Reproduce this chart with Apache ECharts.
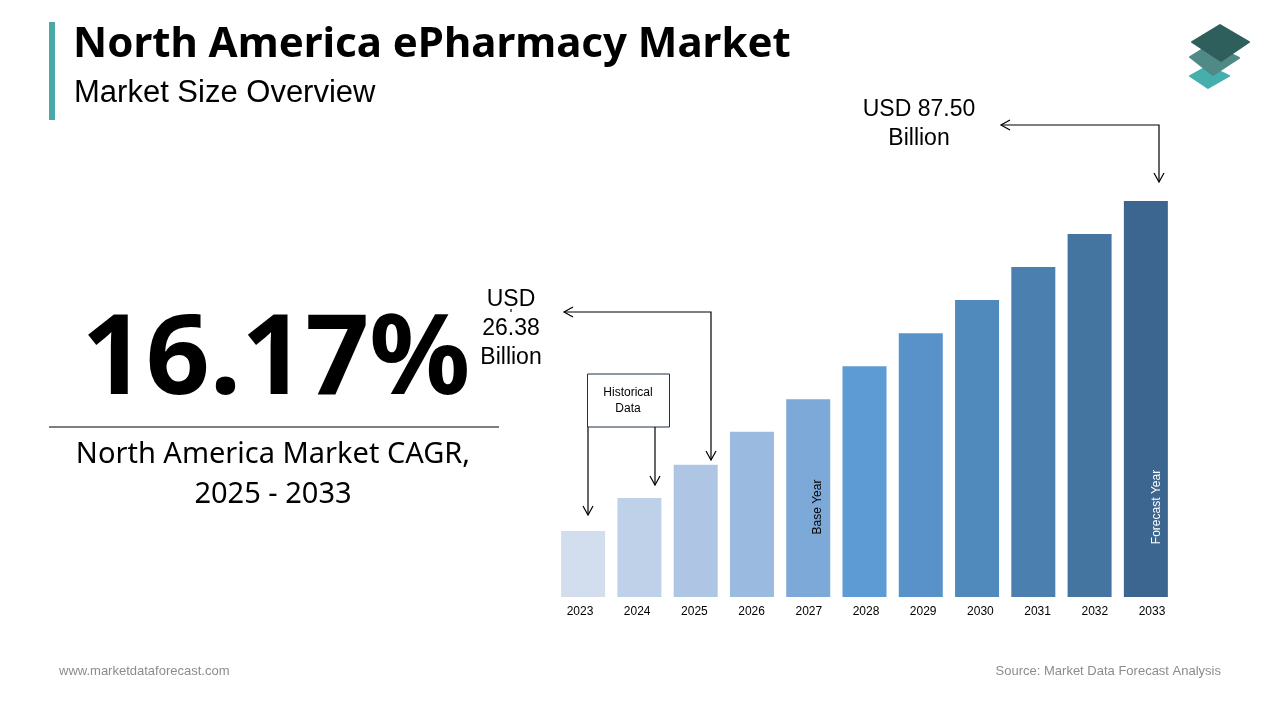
<!DOCTYPE html>
<html>
<head>
<meta charset="utf-8">
<title>North America ePharmacy Market</title>
<script src="https://cdn.jsdelivr.net/npm/echarts@6/dist/echarts.min.js"></script>
<style>
  html, body { margin: 0; padding: 0; background: #fff; }
  #chart { width: 1280px; height: 720px; }
</style>
</head>
<body>
<div id="chart"></div>
<script>
// bar heights, scaled so that 2033 = 87.50
const years = ['2023', '2024', '2025', '2026', '2027', '2028', '2029', '2030', '2031', '2032', '2033'];
const marketSize = [14.6, 21.9, 29.2, 36.5, 43.7, 51.0, 58.3, 65.6, 72.9, 80.2, 87.5];
const barColors = ['#D2DDEE', '#BFD0E9', '#AEC6E3', '#9ABADF', '#7DA9D9', '#5D9BD5', '#5892C8', '#5089BC', '#4A7FB0', '#4475A0', '#3C6690'];

const chart = echarts.init(document.getElementById('chart'));

const sans = '"Liberation Sans", Arial, sans-serif';
const noto = '"Noto Sans", sans-serif';

function text(x, y, str, size, opts) {
  return {
    type: 'text', x: x, y: y, rotation: (opts && opts.rotation) || 0,
    style: Object.assign({
      text: str, fontSize: size, fontFamily: sans, fill: '#000',
      textAlign: 'center', textVerticalAlign: 'middle'
    }, opts && opts.style)
  };
}

function line(points) {
  return {
    type: 'polyline',
    shape: { points: points },
    style: { stroke: '#000', lineWidth: 1.2, fill: null }
  };
}

// open arrow heads
const down = (x, y) => line([[x - 5, y - 9], [x, y], [x + 5, y - 9]]);
const left = (x, y) => line([[x + 9, y - 5], [x, y], [x + 9, y + 5]]);

function poly(points, color) {
  return { type: 'polygon', shape: { points: points }, style: { fill: color, lineJoin: 'round', stroke: color, lineWidth: 2 } };
}

const graphics = [
  // header
  { type: 'rect', shape: { x: 49, y: 22, width: 6, height: 98 }, style: { fill: '#48A9A6' } },
  text(73, 45, 'North America ePharmacy Market', 42, { style: { textAlign: 'left', fontFamily: noto, fontWeight: 'bold' } }),
  text(74, 93, 'Market Size Overview', 31, { style: { textAlign: 'left' } }),

  // logo
  poly([[1190, 76], [1208, 66], [1229, 76], [1208, 88]], '#45AFAD'),
  poly([[1190, 57], [1211, 44], [1239, 58], [1213, 75]], '#4F8A86'),
  poly([[1192, 42], [1220, 25], [1249, 42], [1221, 61]], '#2F5F5C'),

  // left block
  text(276, 362, '16.17%', 112, { style: { fontFamily: noto, fontWeight: 'bold' } }),
  line([[49, 427], [499, 427]]),
  text(273, 455, 'North America Market CAGR,', 29, { style: { fontFamily: noto } }),
  text(273, 495, '2025 - 2033', 29, { style: { fontFamily: noto } }),

  // 2025 callout
  text(511, 300, 'USD', 23),
  text(511, 329, '26.38', 23),
  text(511, 358, 'Billion', 23),
  line([[511, 309], [511, 312]]),
  line([[564, 312], [711, 312], [711, 460]]),
  left(564, 312),
  down(711, 460),

  // historical box
  { type: 'rect', shape: { x: 587.5, y: 374, width: 82, height: 53 }, style: { fill: '#fff', stroke: '#1F3044', lineWidth: 1 } },
  text(628, 393, 'Historical', 12),
  text(628, 409, 'Data', 12),
  line([[588, 427], [588, 515]]),
  down(588, 515),
  line([[655, 427], [655, 485]]),
  down(655, 485),

  // 2033 callout
  text(919, 110, 'USD 87.50', 23),
  text(919, 139, 'Billion', 23),
  line([[1001, 125], [1159, 125], [1159, 182]]),
  left(1001, 125),
  down(1159, 182),

  // footer
  text(59, 671, 'www.marketdataforecast.com', 13, { style: { textAlign: 'left', fill: '#8C8C8C' } }),
  text(1221, 671, 'Source: Market Data Forecast Analysis', 13, { style: { textAlign: 'right', fill: '#8C8C8C' } })
];
graphics.forEach(g => { g.z = 10; });

// labels inside the bars go on top of them
graphics.push(
  Object.assign(text(818, 507, 'Base Year', 12, { rotation: Math.PI / 2 }), { z: 20 }),
  Object.assign(text(1157, 507, 'Forecast Year', 12, { rotation: Math.PI / 2, style: { fill: '#fff' } }), { z: 20 })
);

const option = {
  animation: false,
  backgroundColor: '#fff',
  // second grid only carries the year labels, they are spaced a bit wider than the bars
  grid: [
    { left: 555, top: 201, width: 619, height: 396 },
    { left: 551.4, top: 201, width: 629.2, height: 396 }
  ],
  xAxis: [
    {
      type: 'category', gridIndex: 0, data: years,
      axisLine: { show: false }, axisTick: { show: false }, axisLabel: { show: false }
    },
    {
      type: 'category', gridIndex: 1, data: years,
      axisLine: { show: false }, axisTick: { show: false },
      axisLabel: { color: '#000', fontSize: 12, fontFamily: sans, margin: 9, interval: 0 }
    }
  ],
  yAxis: [
    { type: 'value', gridIndex: 0, min: 0, max: 87.5, show: false },
    { type: 'value', gridIndex: 1, min: 0, max: 87.5, show: false }
  ],
  series: [
    {
      type: 'bar',
      xAxisIndex: 0,
      yAxisIndex: 0,
      barWidth: 44,
      data: marketSize.map((v, i) => ({ value: v, itemStyle: { color: barColors[i] } }))
    }
  ],
  graphic: graphics
};

chart.setOption(option);
</script>
</body>
</html>
